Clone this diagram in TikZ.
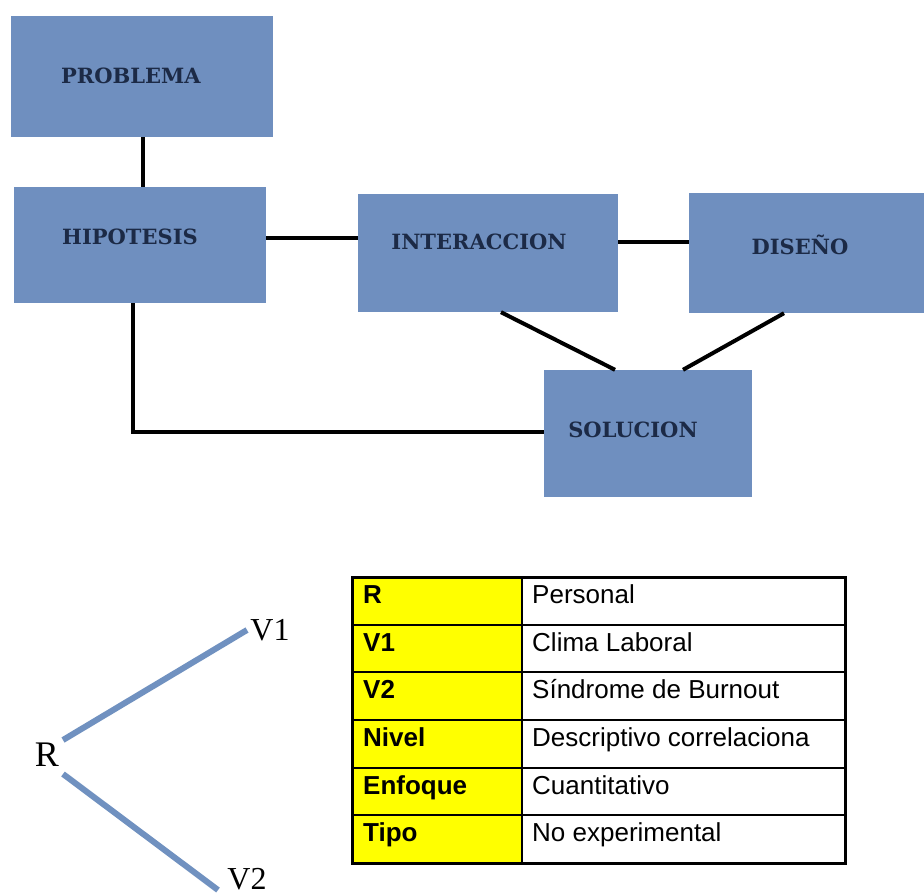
\documentclass[tikz,border=0pt]{standalone}
\usepackage{fontspec}
\newfontfamily\boxfont{DejaVu Serif}
\newfontfamily\tabfont{Liberation Sans}
\newfontfamily\lblfont{Liberation Serif}
\definecolor{boxblue}{RGB}{111,143,191}
\definecolor{lineblue}{RGB}{112,145,192}
\definecolor{navy}{RGB}{28,42,70}
\definecolor{cellyellow}{RGB}{255,255,0}
\tikzset{
  blk/.style={fill=boxblue, draw=none, inner sep=0pt},
  blktext/.style={font=\boxfont\bfseries\fontsize{21}{25}\selectfont, text=navy, inner sep=0pt},
  conn/.style={line width=4pt, black},
  vline/.style={line width=6pt, lineblue},
  bigl/.style={font=\lblfont\fontsize{36}{40}\selectfont, inner sep=0pt},
  vlbl/.style={font=\lblfont\fontsize{32}{36}\selectfont, inner sep=0pt},
  cellb/.style={font=\tabfont\bfseries\fontsize{26}{30}\selectfont, anchor=base west, inner sep=0pt},
  cellt/.style={font=\tabfont\fontsize{26}{30}\selectfont, anchor=base west, inner sep=0pt}
}
\begin{document}
\begin{tikzpicture}[x=1pt,y=-1pt]
\useasboundingbox (0,0) rectangle (924,896);
\fill[white] (0,0) rectangle (924,896);
% boxes
\node[blk, minimum width=262pt, minimum height=121pt] (prob) at (142,76.5) {};
\node[blk, minimum width=252pt, minimum height=116pt] (hip) at (140,245) {};
\node[blk, minimum width=260pt, minimum height=118pt] (int) at (488,253) {};
\node[blk, minimum width=245pt, minimum height=120pt] (dis) at (811.5,253) {};
\node[blk, minimum width=208pt, minimum height=127pt] (sol) at (648,433.5) {};
% box texts
\node[blktext] (probt) at (131,76) {PROBLEMA};
\node[blktext] (hipt) at (130,237) {HIPOTESIS};
\node[blktext] (intt) at (479,242) {INTERACCION};
\node[blktext] (dist) at (800,245) {DISEÑO};
\node[blktext] (solt) at (633,430) {SOLUCION};
% connectors
\draw[conn] (143,0 |- prob.south) -- (143,0 |- hip.north);
\draw[conn] (hip.east |- 0,238) -- (int.west |- 0,238);
\draw[conn] (int.east |- 0,242) -- (dis.west |- 0,242);
\draw[conn] (501,0 |- int.south) -- (615,0 |- sol.north);
\draw[conn] (784,0 |- dis.south) -- (683,0 |- sol.north);
\draw[conn] (133,0 |- hip.south) |- (sol.west |- 0,432);
% R V1 V2
\node[bigl] (R) at (47,755) {R};
\node[vlbl] (V1) at (270,630) {V1};
\node[vlbl] (V2) at (247,879) {V2};
\coordinate (ra) at (63,740);
\coordinate (rb) at (63,774);
\coordinate (va) at (247,630);
\coordinate (vb) at (218,890);
\draw[vline] (ra) -- (va);
\draw[vline] (rb) -- (vb);
% table
\fill[cellyellow] (352,577) rectangle (522,863);
\foreach \yy in {624.7,672.3,720,767.7,815.3} {
  \draw[line width=2pt] (352,\yy) -- (845,\yy);
}
\draw[line width=2.5pt] (522,577) -- (522,863);
\draw[line width=3pt] (352,577) rectangle (845,863);
\node[cellb] (c1a) at (363,603) {R};
\node[cellt] (c1b) at (532,603) {Personal};
\node[cellb] (c2a) at (363,651) {V1};
\node[cellt] (c2b) at (532,651) {Clima Laboral};
\node[cellb] (c3a) at (363,698) {V2};
\node[cellt] (c3b) at (532,698) {Síndrome de Burnout};
\node[cellb] (c4a) at (363,746) {Nivel};
\node[cellt] (c4b) at (532,746) {Descriptivo correlaciona};
\node[cellb] (c5a) at (363,794) {Enfoque};
\node[cellt] (c5b) at (532,794) {Cuantitativo};
\node[cellb] (c6a) at (363,841) {Tipo};
\node[cellt] (c6b) at (532,841) {No experimental};
\end{tikzpicture}
\end{document}
